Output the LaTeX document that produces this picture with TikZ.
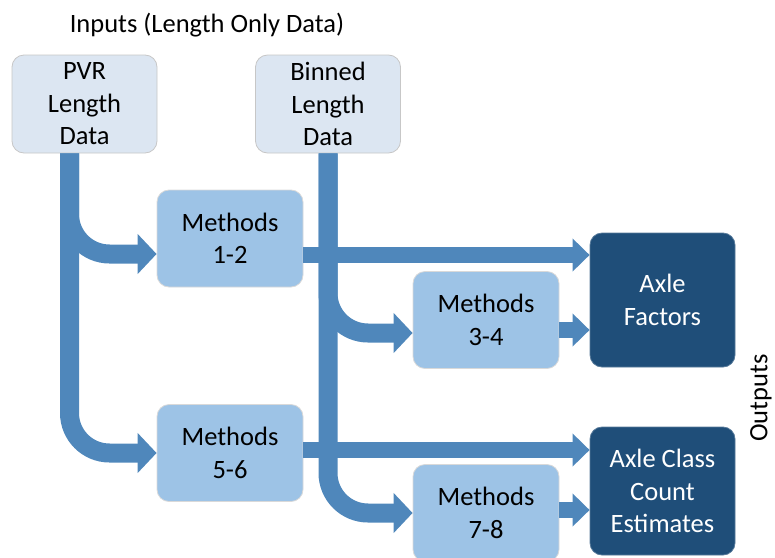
\documentclass[tikz,border=0pt]{standalone}
\usepackage{fontspec}
\setmainfont{Carlito}
\usetikzlibrary{arrows.meta,positioning}

\definecolor{inputfill}{HTML}{DCE6F2}
\definecolor{methodfill}{HTML}{9DC3E6}
\definecolor{outputfill}{HTML}{1F4E79}
\definecolor{bandblue}{HTML}{4F87BB}

\begin{document}
\begin{tikzpicture}[x=1pt,y=-1pt,
  font=\fontsize{26.5}{32.5}\selectfont,
  box/.style={rectangle, rounded corners=12pt, align=center, inner sep=0pt, line width=0.8pt},
  inbox/.style={box, draw=black!22, fill=inputfill, minimum width=145pt, minimum height=98pt},
  methbox/.style={box, draw=black!15, fill=methodfill, minimum width=146pt, minimum height=97pt},
  outbox/.style={box, draw=outputfill!75!white, fill=outputfill, text=white, minimum width=145pt},
  band/.style={draw=bandblue, line width=19pt, rounded corners=40pt, -{Triangle[width=39pt,length=19pt]}},
  thinband/.style={draw=bandblue, line width=15.5pt, -{Triangle[width=32pt,length=17pt]}}]

  \useasboundingbox (0,0) rectangle (775,557);

  % inputs
  \node (title) at (207,25) {Inputs (Length Only Data)};
  \node [inbox] (pvr) at (84.5,104) {PVR\\Length\\Data};
  \node [inbox] (binned) at (328,104) {Binned\\Length\\Data};

  % methods
  \node [methbox] (m12) at (230,238.5) {Methods\\1-2};
  \node [methbox] (m56) at (230,453) {Methods\\5-6};
  \node [methbox] (m34) at (486,320) {Methods\\3-4};
  \node [methbox] (m78) at (486,513) {Methods\\7-8};

  % outputs
  \node [outbox, minimum height=134pt] (axf) at (662.5,300) {Axle\\Factors};
  \node [outbox, minimum height=128pt] (acc) at (662.5,491) {Axle Class\\Count\\Estimates};
  \node [rotate=90, inner sep=1pt] (outputs) at (761,398) {Outputs};

  % PVR data feeds
  \draw [band] ([xshift=-15pt]pvr.south) |- ([yshift=-15.5pt]m12.west);
  \draw [band] ([xshift=-15pt]pvr.south) |- (m56.west);

  % binned data feeds
  \draw [band] (binned.south) |- ([yshift=-13pt]m34.west);
  \draw [band] (binned.south) |- (m78.west);

  % into the outputs
  \draw [thinband] ([yshift=-16.5pt]m12.east) coordinate (o12) -- (o12 -| axf.west);
  \draw [thinband] ([yshift=-10pt]m34.east) coordinate (o34) -- (o34 -| axf.west);
  \draw [thinband] ([yshift=3pt]m56.east) coordinate (o56) -- (o56 -| acc.west);
  \draw [thinband] ([yshift=3pt]m78.east) coordinate (o78) -- (o78 -| acc.west);
\end{tikzpicture}
\end{document}
